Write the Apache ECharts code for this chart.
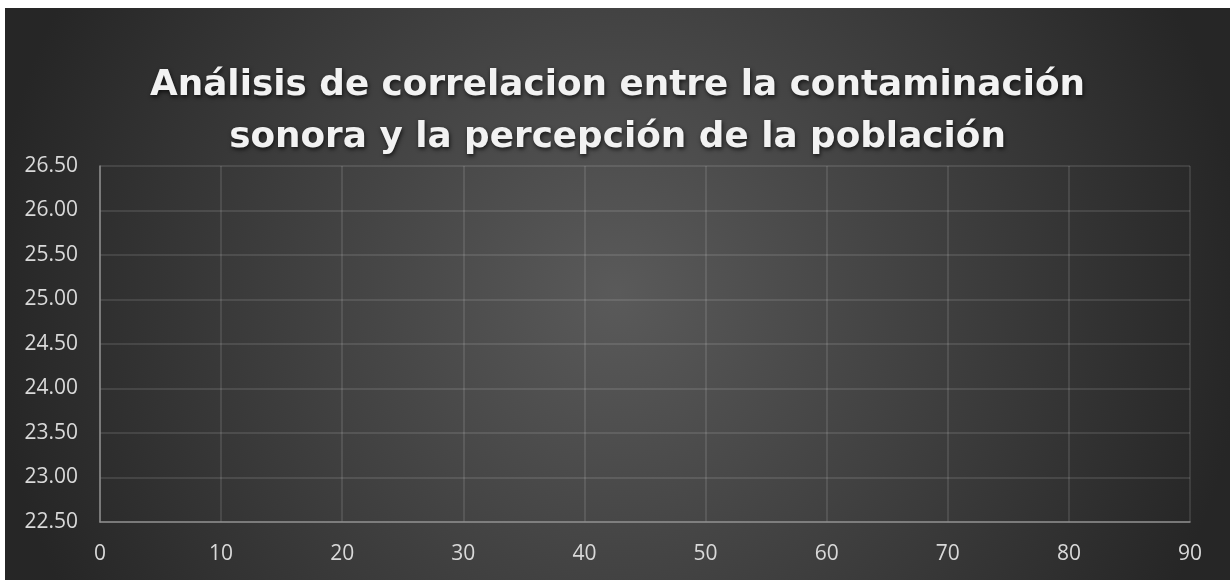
<!DOCTYPE html>
<html>
<head>
<meta charset="utf-8">
<script src="https://cdn.jsdelivr.net/npm/echarts@6/dist/echarts.min.js"></script>
<style>
html,body{margin:0;padding:0;background:#ffffff;width:1230px;height:580px;overflow:hidden;}
#chart{position:absolute;left:5px;top:8px;width:1225px;height:572px;}
</style>
</head>
<body>
<div id="chart"></div>
<script>
// Data (the reference chart shows no plotted points)
const titleText = 'Análisis de correlacion entre la contaminación\nsonora y la percepción de la población';
const xValues = [];
const yValues = [];
const xTicks = [0, 10, 20, 30, 40, 50, 60, 70, 80, 90];
const yTicks = [22.5, 23.0, 23.5, 24.0, 24.5, 25.0, 25.5, 26.0, 26.5];

const points = xValues.map((x, i) => [x, yValues[i]]);

const chart = echarts.init(document.getElementById('chart'), null, {renderer: 'canvas'});
chart.setOption({
  animation: false,
  backgroundColor: new echarts.graphic.RadialGradient(0.5, 0.5, 1.1, [
    {offset: 0, color: '#5a5a5a'},
    {offset: 1, color: '#262626'}
  ]),
  title: {
    text: titleText,
    left: 'center',
    top: 47,
    textStyle: {
      fontFamily: 'DejaVu Sans',
      fontWeight: 'bold',
      fontSize: 35.8,
      lineHeight: 52,
      color: '#f2f2f2',
      textShadowColor: 'rgba(0,0,0,0.7)',
      textShadowBlur: 4,
      textShadowOffsetX: 1,
      textShadowOffsetY: 2
    }
  },
  grid: {left: 95, right: 40, top: 158, bottom: 58, containLabel: false},
  xAxis: {
    type: 'value',
    min: xTicks[0],
    max: xTicks[xTicks.length - 1],
    interval: xTicks[1] - xTicks[0],
    axisLine: {show: true, lineStyle: {color: '#8c8c8c', width: 1.5}},
    axisTick: {show: false},
    axisLabel: {color: '#d9d9d9', fontSize: 21, fontFamily: 'Open Sans', margin: 22},
    splitLine: {show: true, lineStyle: {color: 'rgba(255,255,255,0.14)', width: 1.5}}
  },
  yAxis: {
    type: 'value',
    min: yTicks[0],
    max: yTicks[yTicks.length - 1],
    interval: 0.5,
    axisLine: {show: true, lineStyle: {color: '#8c8c8c', width: 1.5}},
    axisTick: {show: false},
    axisLabel: {
      color: '#d9d9d9', fontSize: 21, fontFamily: 'Open Sans', margin: 22,
      formatter: v => v.toFixed(2)
    },
    splitLine: {show: true, lineStyle: {color: 'rgba(255,255,255,0.14)', width: 1.5}}
  },
  series: [{
    type: 'scatter',
    data: points,
    symbolSize: 8,
    itemStyle: {color: '#5b9bd5'}
  }]
});
</script>
</body>
</html>
